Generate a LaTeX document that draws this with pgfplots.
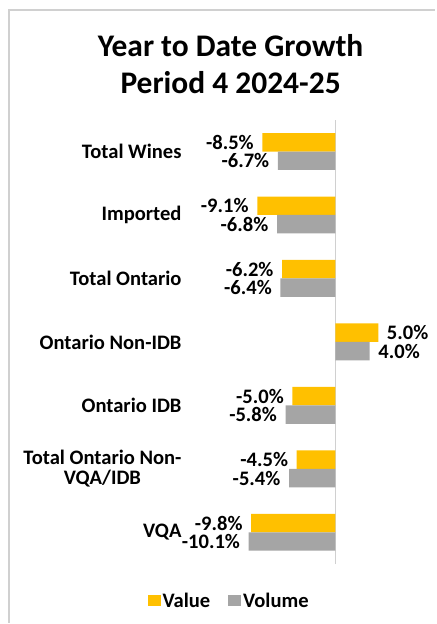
\documentclass[border=0pt]{standalone}
\usepackage{pgfplots}
\pgfplotsset{compat=1.18}
\usepackage{fontspec}
\setmainfont{Carlito}
\definecolor{valcol}{HTML}{FFC000}
\definecolor{volcol}{HTML}{A5A5A5}
\definecolor{framecol}{HTML}{D0D0D0}
\begin{document}
\begin{tikzpicture}
\begin{axis}[
  name=main,
  at={(0pt,0pt)}, anchor=south west,
  scale only axis, width=236pt, height=445pt,
  xbar, bar width=18.5pt,
  xmin=-17.67, xmax=9.77,
  ymin=-0.5, ymax=6.5,
  hide x axis,
  axis line style={draw=none},
  ytick={0,1,2,3,4,5,6},
  yticklabels={{VQA},{Total Ontario Non-\\VQA/IDB},{Ontario IDB},{Ontario Non-IDB},{Total Ontario},{Imported},{Total Wines}},
  yticklabel style={align=center, font=\fontsize{20.6}{20}\selectfont\bfseries, anchor=east, inner sep=2pt},
  major tick length=0pt,
  nodes near coords={\pgfmathprintnumber[fixed,fixed zerofill,precision=1,assume math mode=true]{\pgfplotspointmeta}\%},
  nodes near coords align=horizontal,
  every node near coord/.append style={font=\fontsize{20.6}{20}\selectfont\bfseries, inner xsep=8.5pt, inner ysep=0pt},
  legend style={at={(0.193,-0.083)}, anchor=center, legend columns=2, draw=none, fill=none,
    font=\fontsize{20.6}{20}\selectfont\bfseries,
    /tikz/every even column/.append style={column sep=16pt}},
  legend image code/.code={\fill[#1] (0pt,-5pt) rectangle (13pt,6pt);},
  clip=false,
]
\draw[framecol, line width=1.5pt] (axis cs:0,-0.5) -- (axis cs:0,6.5);
\addplot[fill=valcol, draw=none, bar shift=9.25pt] coordinates {
  (-9.8,0) (-4.5,1) (-5.0,2) (5.0,3) (-6.2,4) (-9.1,5) (-8.5,6)};
\addlegendentry{Value}
\addplot[fill=volcol, draw=none, bar shift=-9.25pt] coordinates {
  (-10.1,0) (-5.4,1) (-5.8,2) (4.0,3) (-6.4,4) (-6.8,5) (-6.7,6)};
\addlegendentry{Volume}
\end{axis}
\begin{scope}[shift={(-184pt,-59pt)}, x=1pt, y=1pt]
\draw[framecol, line width=2.2pt] (9,0) -- (9,614) -- (436,614);
\node[align=center, font=\fontsize{31.5}{37}\selectfont\bfseries] at (231,560) {Year to Date Growth\\Period 4 2024-25};
\path[use as bounding box] (0,0) rectangle (436,624);
\end{scope}
\end{tikzpicture}
\end{document}
